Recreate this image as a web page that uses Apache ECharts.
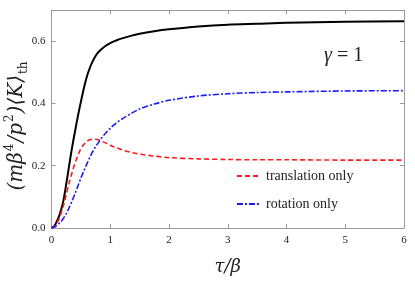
<!DOCTYPE html>
<html><head><meta charset="utf-8">
<script src="https://cdn.jsdelivr.net/npm/echarts@6/dist/echarts.min.js"></script>
<style>html,body{margin:0;padding:0;background:#fff}#c{width:415px;height:281px}</style>
</head><body><div id="c"></div>
<script>
const tau    = [0, 0.05, 0.1, 0.15, 0.2, 0.25, 0.3, 0.35, 0.4, 0.45, 0.5, 0.55, 0.6, 0.65, 0.7, 0.75, 0.8, 0.9, 1.0, 1.1, 1.2, 1.35, 1.5, 1.75, 2, 2.5, 3, 3.5, 4, 5, 6];
const total  = [0, 0.007, 0.025, 0.05, 0.085, 0.14, 0.2, 0.258, 0.31, 0.36, 0.405, 0.448, 0.485, 0.513, 0.535, 0.552, 0.565, 0.582, 0.594, 0.602, 0.609, 0.617, 0.624, 0.632, 0.638, 0.647, 0.653, 0.656, 0.659, 0.662, 0.664];
const transl = [0, 0.005, 0.018, 0.04, 0.07, 0.106, 0.145, 0.178, 0.208, 0.233, 0.255, 0.268, 0.278, 0.283, 0.285, 0.285, 0.283, 0.275, 0.266, 0.258, 0.251, 0.243, 0.237, 0.231, 0.226, 0.222, 0.22, 0.219, 0.219, 0.218, 0.218];
const rotat  = [0, 0.003, 0.01, 0.018, 0.03, 0.046, 0.065, 0.087, 0.11, 0.135, 0.16, 0.183, 0.205, 0.226, 0.245, 0.261, 0.275, 0.3, 0.32, 0.337, 0.35, 0.367, 0.382, 0.398, 0.41, 0.424, 0.431, 0.435, 0.437, 0.44, 0.441];
const xTicks = [0, 1, 2, 3, 4, 5, 6];
const yTicks = [0.0, 0.2, 0.4, 0.6];
const seriesNames = ['translation only', 'rotation only'];

const pairs = ys => tau.map((t, i) => [t, ys[i]]);
const serif = 'Liberation Serif';
const axisGray = '#9a9a9a';

const chart = echarts.init(document.getElementById('c'));
const baseX = {type: 'value', min: 0, max: 6, interval: 1,
  axisLine: {show: true, onZero: false, lineStyle: {color: axisGray, width: 1}},
  axisTick: {show: true, inside: true, length: 4, lineStyle: {color: axisGray}},
  splitLine: {show: false}};
const baseY = {type: 'value', min: 0, max: 0.7, interval: 0.2,
  axisLine: {show: true, onZero: false, lineStyle: {color: axisGray, width: 1}},
  axisTick: {show: true, inside: true, length: 4, lineStyle: {color: axisGray}},
  splitLine: {show: false}};
chart.setOption({
  animation: false,
  grid: {left: 51.5, right: 11, top: 10, bottom: 53},
  xAxis: [
    Object.assign({}, baseX, {position: 'bottom',
      name: 'τ/β', nameLocation: 'middle', nameGap: 30,
      nameTextStyle: {fontFamily: 'DejaVu Serif', fontStyle: 'italic', fontSize: 18, color: '#222'},
      axisLabel: {fontFamily: serif, fontSize: 11, color: '#222', margin: 7,
        formatter: v => xTicks.includes(v) ? String(v) : ''}}),
    Object.assign({}, baseX, {position: 'top', axisLabel: {show: false}})
  ],
  yAxis: [
    Object.assign({}, baseY, {position: 'left',
      axisLabel: {fontFamily: serif, fontSize: 11, color: '#222', margin: 6, showMaxLabel: false,
        formatter: v => yTicks.some(t => Math.abs(t - v) < 1e-9) ? v.toFixed(1) : ''}}),
    Object.assign({}, baseY, {position: 'right', axisLabel: {show: false}})
  ],
  legend: {
    data: seriesNames, orient: 'vertical', left: 231, top: 164, itemGap: 14,
    itemWidth: 24, itemHeight: 12,
    itemStyle: {opacity: 0},
    textStyle: {fontFamily: serif, fontSize: 14, color: '#222'}
  },
  graphic: [
    {type: 'text', left: 324, top: 46,
      style: {text: '{i|γ} = 1', font: '20px "Liberation Serif"', fill: '#222',
        rich: {i: {fontStyle: 'italic', fontFamily: 'Liberation Serif', fontSize: 20}}}},
    {type: 'text', x: 17, y: 126, rotation: Math.PI / 2,
      style: {
        text: '{a|(mβ}{s|4}{a|/p}{s|2}{a|)⟨K⟩}{t|th}',
        align: 'center', verticalAlign: 'middle', fill: '#222',
        rich: {
          a: {fontFamily: 'DejaVu Serif', fontStyle: 'italic', fontSize: 20, lineHeight: 26, verticalAlign: 'middle'},
          s: {fontFamily: 'DejaVu Serif', fontSize: 12, lineHeight: 26, verticalAlign: 'top', padding: [0, 1, 0, 1]},
          t: {fontFamily: 'DejaVu Serif', fontSize: 12, lineHeight: 26, verticalAlign: 'bottom', padding: [0, 0, 0, 1]}
        }
      }}
  ],
  series: [
    {name: 'total', type: 'line', data: pairs(total), smooth: 0.3, symbol: 'none',
      lineStyle: {color: '#000', width: 2}, itemStyle: {color: '#000'}},
    {name: 'translation only', type: 'line', data: pairs(transl), smooth: 0.3, symbol: 'none',
      lineStyle: {color: '#ff1a1a', width: 1.6, type: [5, 3]}, itemStyle: {color: '#ff1a1a'}},
    {name: 'rotation only', type: 'line', data: pairs(rotat), smooth: 0.3, symbol: 'none',
      lineStyle: {color: '#1a1aff', width: 1.6, type: [6, 2, 2, 2]}, itemStyle: {color: '#1a1aff'}}
  ]
});
</script></body></html>
